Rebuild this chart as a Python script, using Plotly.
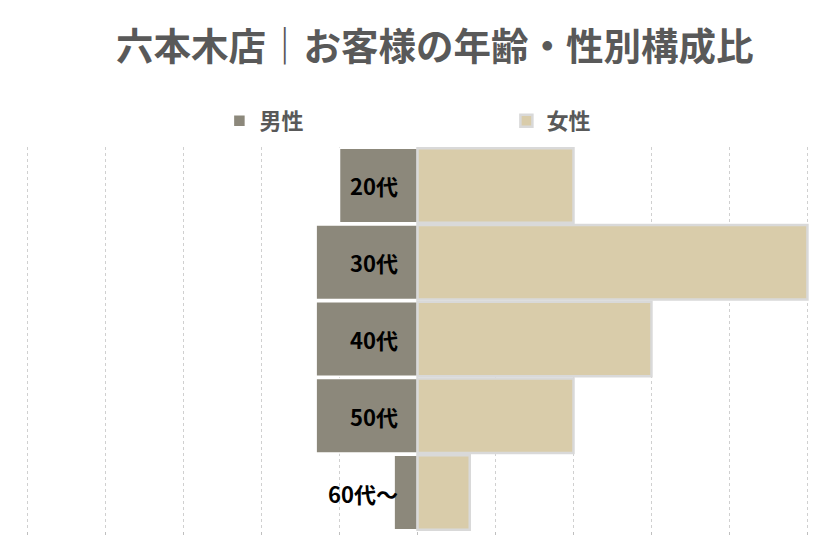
import plotly.graph_objects as go

# age groups, top to bottom
ages = ["20代", "30代", "40代", "50代", "60代～"]
male = [1.0, 1.3, 1.3, 1.3, 0.3]
female = [2.0, 5.0, 3.0, 2.0, 0.67]
grid_ticks = [-5, -4, -3, -2, -1, 0, 1, 2, 3, 4, 5]

font_jp = "Noto Sans CJK JP"

fig = go.Figure()
fig.add_trace(go.Bar(
    y=ages, x=[-v for v in male], orientation="h", name="<b>男性</b>",
    marker=dict(color="#8c887b", line=dict(color="#ffffff", width=1.5)),
    hoverinfo="skip"))
fig.add_trace(go.Bar(
    y=ages, x=female, orientation="h", name="<b>女性</b>",
    marker=dict(color="#d9ccaa", line=dict(color="#d9d9d9", width=2.5)),
    hoverinfo="skip"))

# age labels sit just left of the zero line
for a in ages:
    fig.add_annotation(x=0, y=a, text="<b>" + a + "</b>", showarrow=False, xanchor="right",
                       xshift=-18, font=dict(family=font_jp, size=22, color="#000000"))

# the page body adds 8px on the left/top, margins allow for that
fig.update_layout(
    width=835, height=548,
    barmode="relative", bargap=0.03,
    paper_bgcolor="white", plot_bgcolor="white",
    margin=dict(l=18, r=34, t=139, b=25, autoexpand=False),
    font=dict(family=font_jp, color="#595959"),
    title=dict(text="<b>六本木店｜お客様の年齢・性別構成比</b>",
               x=0.511, xanchor="center", y=0.929, yanchor="middle",
               font=dict(family=font_jp, size=37.5, color="#595959")),
    legend=dict(orientation="h", x=0.247, xanchor="left", y=1.068, yanchor="middle",
                entrywidth=242, entrywidthmode="pixels",
                font=dict(family=font_jp, size=22, color="#595959"),
                traceorder="normal"),
    xaxis=dict(range=[-5.02, 5.02], tickvals=grid_ticks, showticklabels=False,
               showgrid=True, gridcolor="#d0d0d0", griddash="dot", gridwidth=1,
               zeroline=False, showline=False,
               ticks="outside", ticklen=3, tickcolor="#bfbfbf"),
    yaxis=dict(categoryorder="array", categoryarray=ages, autorange="reversed",
               showticklabels=False, showgrid=False, zeroline=False, showline=False),
)

fig.write_html("out.html")
